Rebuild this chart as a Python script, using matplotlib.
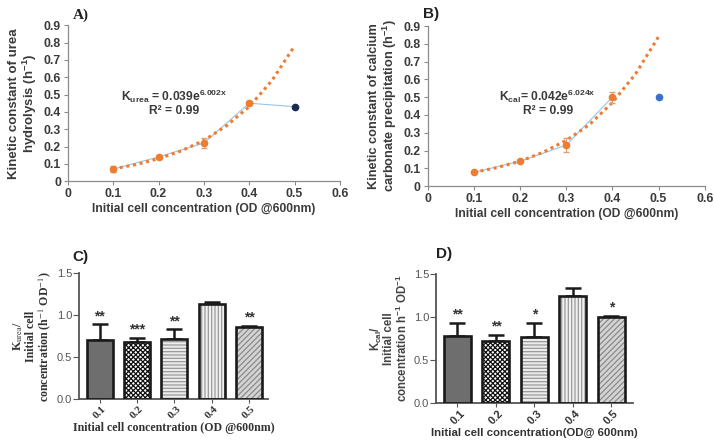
import numpy as np
import matplotlib
matplotlib.use("Agg")
import matplotlib.pyplot as plt

plt.rcParams['font.family'] = ['Liberation Sans', 'DejaVu Sans']
plt.rcParams['mathtext.fontset'] = 'custom'
plt.rcParams['mathtext.rm'] = 'Liberation Sans:bold'
plt.rcParams['mathtext.bf'] = 'Liberation Sans:bold'
plt.rcParams['mathtext.it'] = 'Liberation Sans:bold'
plt.rcParams['hatch.linewidth'] = 0.9

# ---- data : panels A / B (kinetic constants)
od = [0.1, 0.2, 0.3, 0.4]
k_urea = [0.07, 0.14, 0.22, 0.45]
k_urea_err = [0.015, 0.006, 0.03, 0.012]
k_urea_last = 0.43
k_cal = [0.077, 0.14, 0.23, 0.50]
k_cal_err = [0.006, 0.006, 0.04, 0.03]
k_cal_last = 0.50

# trend lines
trend_x = [0.1, 0.15, 0.2, 0.25, 0.3, 0.35, 0.4, 0.45, 0.5]
trend_urea = [0.071, 0.096, 0.13, 0.175, 0.235, 0.32, 0.43, 0.58, 0.78]
trend_cal = [0.077, 0.104, 0.14, 0.19, 0.257, 0.345, 0.47, 0.63, 0.84]

# ---- data : panels C / D (normalised bars)
od_labels = ["0.1", "0.2", "0.3", "0.4", "0.5"]
c_vals = [0.71, 0.68, 0.72, 1.13, 0.86]
c_err = [0.18, 0.05, 0.11, 0.03, 0.01]
c_stars = ["**", "***", "**", "", "**"]
d_vals = [0.78, 0.72, 0.77, 1.25, 1.00]
d_err = [0.15, 0.07, 0.16, 0.09, 0.01]
d_stars = ["**", "**", "*", "", "*"]

orange = "#ED7D31"
txt = "#3a3a3a"

fig = plt.figure(figsize=(7.14, 4.42), dpi=100)


def scatter_panel(ax, y, yerr, last, last_col, trend, join_last):
    xs = od + [0.5] if join_last else od
    ys = y + [last] if join_last else y
    ax.plot(xs, ys, color="#9cc3e6", lw=0.8, zorder=1)
    ax.plot(trend_x, trend, color=orange, ls=(0, (1, 1.2)), lw=2.2, zorder=2)
    ax.errorbar(od, y, yerr=yerr, fmt="o", color=orange, ms=4.5,
                ecolor="#d9a27a", elinewidth=0.8, capsize=2, zorder=3)
    ax.plot([0.5], [last], "o", color=last_col, ms=4.5, zorder=3)
    ax.set_xlim(0, 0.6)
    ax.set_ylim(0, 0.9)
    ax.set_xticks(np.arange(0, 0.61, 0.1))
    ax.set_xticklabels(["0", "0.1", "0.2", "0.3", "0.4", "0.5", "0.6"])
    ax.set_yticks(np.arange(0, 0.91, 0.1))
    ax.set_yticklabels(["0"] + ["%.1f" % v for v in np.arange(0.1, 0.91, 0.1)])
    for s in ["top", "right"]:
        ax.spines[s].set_visible(False)
    for s in ["left", "bottom"]:
        ax.spines[s].set_color("#8c8c8c")
        ax.spines[s].set_linewidth(0.9)
    ax.tick_params(length=3, color="#8c8c8c", labelsize=8.8, labelcolor=txt, pad=2)
    for lab in ax.get_xticklabels() + ax.get_yticklabels():
        lab.set_fontweight("bold")
    ax.set_xlabel("Initial cell concentration (OD @600nm)", fontsize=8.7,
                  fontweight="bold", color=txt, labelpad=2)


axA = fig.add_axes([0.095, 0.590, 0.381, 0.353])
scatter_panel(axA, k_urea, k_urea_err, k_urea_last, "#1b2a4e", trend_urea, True)
axA.set_ylabel("Kinetic constant of urea\nhydrolysis (h$^{-1}$)", fontsize=9.5,
               fontweight="bold", color=txt, labelpad=3, linespacing=1.05)
axA.text(0.235, 0.455, "K$_{urea}$ = 0.039e$^{6.002x}$\nR² = 0.99", ha="center",
         va="center", fontsize=8.7, fontweight="bold", color=txt, linespacing=1.05)
fig.text(0.102, 0.965, "A)", fontsize=11, fontweight="bold",
         family="Liberation Serif", color="#222222", va="center")

axB = fig.add_axes([0.599, 0.579, 0.388, 0.362])
scatter_panel(axB, k_cal, k_cal_err, k_cal_last, "#3a6fd0", trend_cal, False)
axB.set_ylabel("Kinetic constant of calcium\ncarbonate precipitation (h$^{-1}$)",
               fontsize=9.2, fontweight="bold", color=txt, labelpad=3,
               linespacing=1.05)
axB.text(0.26, 0.47, "K$_{cal}$= 0.042e$^{6.024x}$\nR² = 0.99", ha="center",
         va="center", fontsize=8.7, fontweight="bold", color=txt, linespacing=1.05)
fig.text(0.592, 0.968, "B)", fontsize=11, fontweight="bold", color="#222222",
         va="center")

faces = ["#6e6e6e", "#ffffff", "#ececec", "#f0f0f0", "#d4d4d4"]
hatches = [None, "xxxxxxx", "-----", "|||||", "//////"]
hcols = ["#6e6e6e", "#111111", "#9a9a9a", "#9a9a9a", "#8a8a8a"]


def bar_panel(ax, vals, err, stars):
    x = np.arange(len(vals))
    for i in range(len(vals)):
        ax.bar(x[i], vals[i], 0.7, color=faces[i], hatch=hatches[i],
               edgecolor=hcols[i], linewidth=0, zorder=2)
    ax.bar(x, vals, 0.7, fill=False, edgecolor="#1a1a1a", linewidth=1.9, zorder=3)
    ax.errorbar(x, vals, yerr=[[0] * len(vals), err], fmt="none", ecolor="#1a1a1a",
                elinewidth=1.8, capsize=5.5, capthick=1.8, zorder=1)
    for i, s in enumerate(stars):
        if s:
            ax.text(x[i], vals[i] + err[i] + 0.015, s, ha="center", va="bottom",
                    fontsize=10, fontweight="bold", color="#333333")
    ax.set_ylim(0, 1.5)
    ax.set_yticks([0, 0.5, 1.0, 1.5])
    ax.set_yticklabels(["0.0", "0.5", "1.0", "1.5"])
    ax.set_xticks(x)
    ax.set_xticklabels(od_labels, rotation=45, fontweight="bold")
    for s in ["top", "right"]:
        ax.spines[s].set_visible(False)
    for s in ["left", "bottom"]:
        ax.spines[s].set_color("#555555")
        ax.spines[s].set_linewidth(1.3)
    ax.tick_params(axis="y", length=4, color="#555555", labelsize=8,
                   labelcolor="#555555", pad=1)
    ax.tick_params(axis="x", length=3, color="#555555", labelsize=8,
                   labelcolor="#333333", pad=1)


axC = fig.add_axes([0.111, 0.097, 0.264, 0.285])
bar_panel(axC, c_vals, c_err, c_stars)
axC.set_xlim(-0.55, 4.5)
axC.set_ylabel("K$_{\\mathrm{urea}}$/\nInitial cell\nconcentration (h$^{\\mathrm{-1}}$ OD$^{\\mathrm{-1}}$)",
               fontsize=8.6, fontweight="bold", family="Liberation Serif",
               math_fontfamily="stix", color="#333333", labelpad=3,
               linespacing=0.95)
axC.set_xlabel("Initial cell concentration (OD @600nm)", fontsize=8.6,
               fontweight="bold", family="Liberation Serif", color="#333333",
               labelpad=1)
for lab in axC.get_xticklabels():
    lab.set_family("Liberation Serif")
fig.text(0.101, 0.418, "C)", fontsize=11, fontweight="bold", color="#222222",
         va="center")

axD = fig.add_axes([0.611, 0.088, 0.276, 0.292])
bar_panel(axD, d_vals, d_err, d_stars)
axD.set_xlim(-0.55, 4.57)
axD.set_ylabel("K$_{cal}$/\nInitial cell\nconcentration h$^{-1}$ OD$^{-1}$",
               fontsize=8.3, fontweight="bold", color="#444444", labelpad=3,
               linespacing=0.95)
axD.set_xlabel("Initial cell concentration(OD@ 600nm)", fontsize=8.2,
               fontweight="bold", color="#333333", labelpad=1)
fig.text(0.611, 0.425, "D)", fontsize=11, fontweight="bold", color="#222222",
         va="center")

fig.savefig("out.png", dpi=100, facecolor="white")
